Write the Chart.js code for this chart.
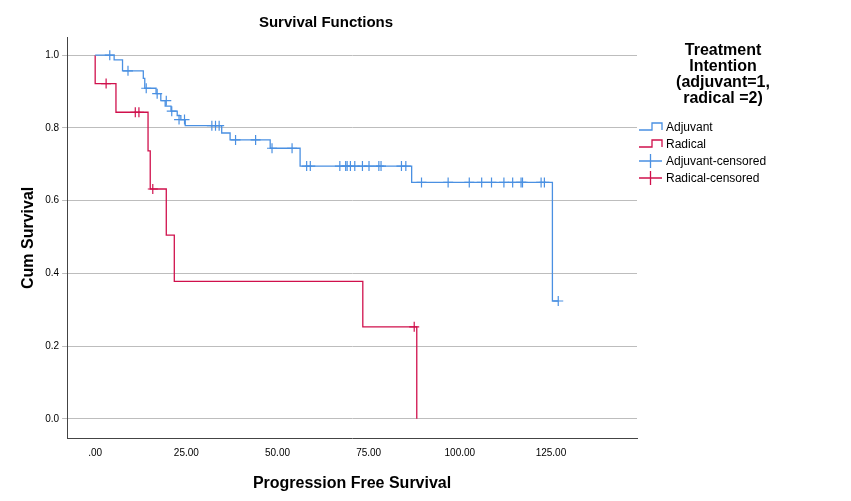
<!DOCTYPE html>
<html><head><meta charset="utf-8">
<script src="https://cdn.jsdelivr.net/npm/chart.js@4"></script>
<style>
body{margin:0;background:#fff;font-family:Arial,"Liberation Sans",sans-serif}
#wrap{position:relative;width:851px;height:501px}
#legend{position:absolute;left:638px;top:42px;width:170px;font-size:12px;color:#000}
#legend .t{font-weight:bold;font-size:16px;text-align:center;line-height:16px;margin-bottom:12px}
#legend .i{display:flex;align-items:center;height:17px}
#legend svg{margin-right:3px}
</style></head><body>
<div id="wrap"><canvas id="c" width="851" height="501"></canvas>
<div id="legend">
<div class="t">Treatment<br>Intention<br>(adjuvant=1,<br>radical =2)</div>
<div class="i"><svg width="25" height="12"><path d="M1 9H14V2H24V9" fill="none" stroke="#4a90e2" stroke-width="1.3"/></svg>Adjuvant</div>
<div class="i"><svg width="25" height="12"><path d="M1 9H14V2H24V9" fill="none" stroke="#d0104c" stroke-width="1.3"/></svg>Radical</div>
<div class="i"><svg width="25" height="14"><path d="M1 7H24M12.5 0V14" fill="none" stroke="#4a90e2" stroke-width="1.3"/></svg>Adjuvant-censored</div>
<div class="i"><svg width="25" height="14"><path d="M1 7H24M12.5 0V14" fill="none" stroke="#d0104c" stroke-width="1.3"/></svg>Radical-censored</div>
</div></div>
<script>
const adjTimes = [0, 5.2, 7.5, 13.2, 13.6, 16.7, 18, 19.2, 20.8, 22.5, 23.5, 24.7, 34.7, 37, 48, 56.2, 86.8, 125.4, 127];
const adjSurv = [1.0, 0.987, 0.957, 0.936, 0.909, 0.894, 0.875, 0.86, 0.846, 0.834, 0.823, 0.806, 0.786, 0.767, 0.744, 0.695, 0.65, 0.324, 0.324];
const radTimes = [0, 0, 5.7, 14.5, 15.1, 19.5, 21.7, 73.4, 88.2];
const radSurv = [1.0, 0.922, 0.843, 0.737, 0.632, 0.505, 0.378, 0.253, 0];
const adjCensT = [4, 9, 14, 17, 19.5, 21, 23, 24.5, 32, 33, 34, 38.5, 44, 48.5, 54, 58, 59,
  67.1, 68.7, 69.1, 70, 71.2, 73.3, 75.1, 77.8, 78.4, 84, 85.2,
  89.5, 96.8, 102.6, 106, 108.7, 112.1, 114.5, 116.8, 117.2, 122.3, 123.2, 127];
const adjCensS = [1.0, 0.957, 0.909, 0.894, 0.875, 0.846, 0.823, 0.823, 0.806, 0.806, 0.806, 0.767, 0.767, 0.744, 0.744, 0.695, 0.695,
  0.695, 0.695, 0.695, 0.695, 0.695, 0.695, 0.695, 0.695, 0.695, 0.695, 0.695,
  0.65, 0.65, 0.65, 0.65, 0.65, 0.65, 0.65, 0.65, 0.65, 0.65, 0.65, 0.324];
const radCensT = [3, 11, 12, 15.8, 87.5];
const radCensS = [0.922, 0.843, 0.843, 0.632, 0.253];
const xTicks = [0, 25, 50, 75, 100, 125];

const pts = (t, s) => t.map((x, i) => ({x: x, y: s[i]}));
const blue = '#4a90e2', red = '#d0104c';

new Chart(document.getElementById('c'), {
    type: 'scatter',
    data: {
        datasets: [
            {label: 'Adjuvant', data: pts(adjTimes, adjSurv), showLine: true, stepped: 'before', borderColor: blue, borderWidth: 1.3, pointRadius: 0},
            {label: 'Radical', data: pts(radTimes, radSurv), showLine: true, stepped: 'before', borderColor: red, borderWidth: 1.3, pointRadius: 0},
            {label: 'Adjuvant-censored', data: pts(adjCensT, adjCensS), pointStyle: 'cross', pointRadius: 5, borderColor: blue, borderWidth: 1.2},
            {label: 'Radical-censored', data: pts(radCensT, radCensS), pointStyle: 'cross', pointRadius: 5, borderColor: red, borderWidth: 1.2}
        ]
    },
    options: {
        responsive: false,
        animation: false,
        layout: {padding: {left: 15, right: 214, top: 6, bottom: 4}},
        plugins: {
            legend: {display: false},
            tooltip: {enabled: false},
            title: {display: true, text: 'Survival Functions', color: '#000', font: {size: 15, family: 'Arial'}, padding: {top: 8, bottom: 5}}
        },
        scales: {
            x: {
                type: 'linear', min: -7.7, max: 148.6,
                afterBuildTicks: axis => { axis.ticks = xTicks.map(v => ({value: v})); },
                ticks: {color: '#000', font: {size: 10}, callback: v => v === 0 ? '.00' : v.toFixed(2)},
                grid: {display: false, drawTicks: true, tickLength: 5},
                border: {color: '#444'},
                title: {display: true, text: 'Progression Free Survival', color: '#000', font: {size: 16, weight: 'bold'}, padding: {top: 12}}
            },
            y: {
                min: -0.055, max: 1.05,
                afterBuildTicks: axis => { axis.ticks = [0, 0.2, 0.4, 0.6, 0.8, 1.0].map(v => ({value: v})); },
                ticks: {color: '#000', font: {size: 10}, callback: v => v.toFixed(1)},
                grid: {color: '#bdbdbd', lineWidth: 1, tickLength: 5},
                border: {color: '#444'},
                title: {display: true, text: 'Cum Survival', color: '#000', font: {size: 16, weight: 'bold'}}
            }
        }
    }
});
</script></body></html>
